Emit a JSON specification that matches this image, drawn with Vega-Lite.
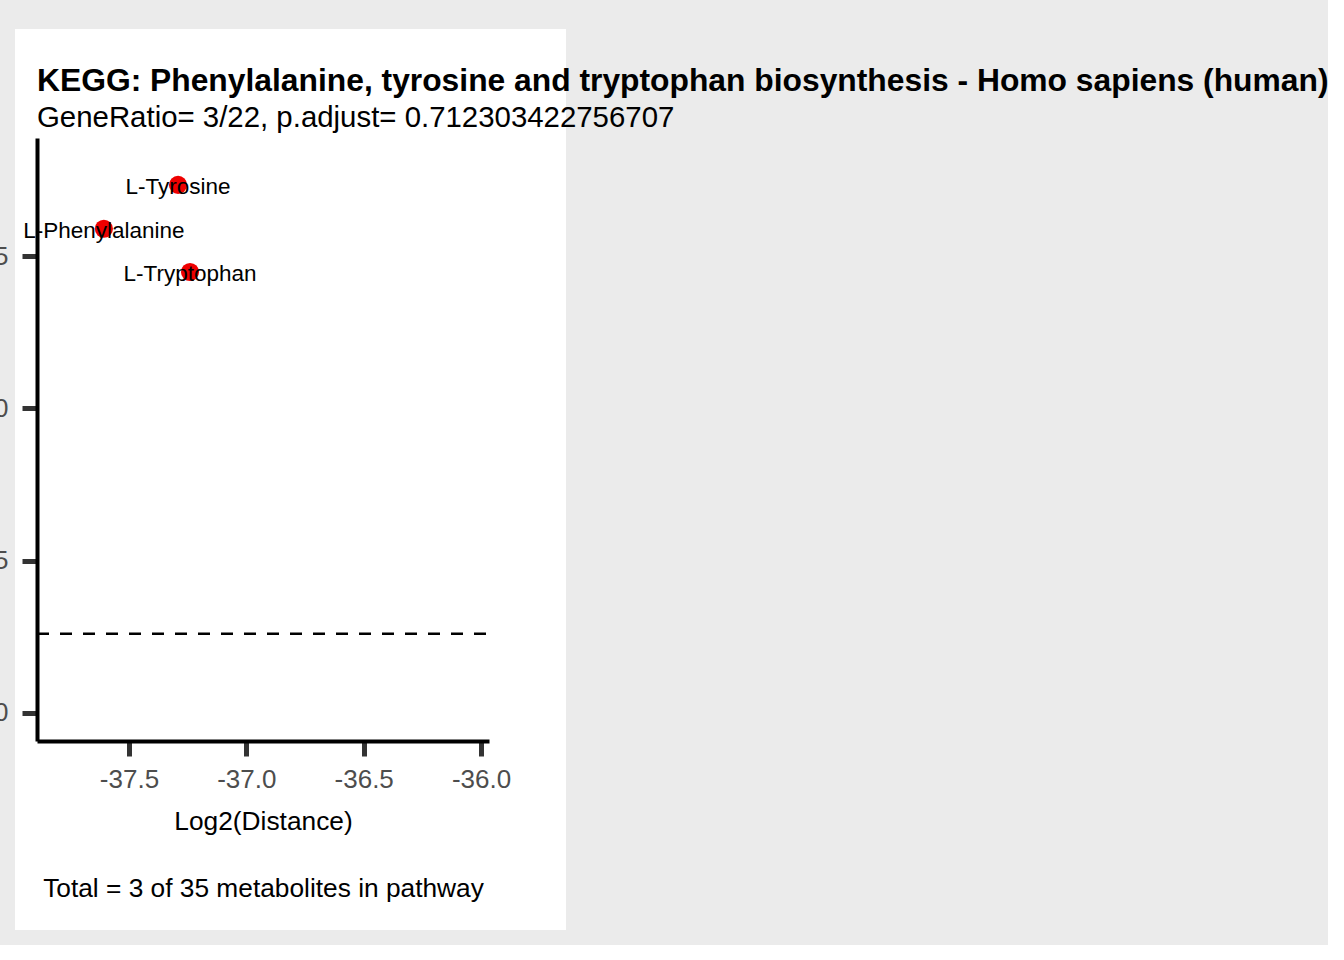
{
  "$schema": "https://vega.github.io/schema/vega-lite/v6.json",
  "autosize": {"type": "none"},
  "width": 551,
  "height": 901,
  "padding": {"left": 15, "top": 29, "right": 762, "bottom": 15},
  "background": "#EBEBEB",
  "config": {
    "view": {"fill": "white", "stroke": null},
    "font": "Liberation Sans"
  },
  "title": {
    "text": "KEGG: Phenylalanine, tyrosine and tryptophan biosynthesis - Homo sapiens (human)",
    "subtitle": "GeneRatio= 3/22, p.adjust= 0.712303422756707",
    "anchor": "start",
    "frame": "group",
    "font": "Liberation Sans",
    "fontSize": 31.8,
    "fontWeight": "bold",
    "color": "black",
    "subtitleFont": "Liberation Sans",
    "subtitleFontSize": 29.4,
    "subtitleColor": "black",
    "subtitlePadding": 6,
    "offset": 0,
    "dx": 22,
    "dy": 103
  },
  "datasets": {
    "points": [
      {"name": "L-Tyrosine", "log2dist": -37.291, "score": 8.67},
      {"name": "L-Phenylalanine", "log2dist": -37.607, "score": 7.95},
      {"name": "L-Tryptophan", "log2dist": -37.24, "score": 7.24}
    ],
    "threshold": [
      {"score": 1.301, "xmin": -37.892, "xmax": -35.966}
    ]
  },
  "layer": [
    {
      "data": {"name": "threshold"},
      "mark": {"type": "rule", "color": "black", "strokeWidth": 2.5, "strokeDash": [12, 11]},
      "encoding": {
        "x": {
          "field": "xmin", "type": "quantitative",
          "scale": {"domain": [-37.892, -35.966], "range": [22, 474], "nice": false, "zero": false},
          "axis": {
            "orient": "bottom",
            "offset": -189,
            "values": [-37.5, -37, -36.5, -36],
            "labelExpr": "(datum.value < 0 ? '-' : '') + format(abs(datum.value), '.1f')",
            "grid": false,
            "domainColor": "black",
            "domainWidth": 4,
            "tickColor": "#333333",
            "tickWidth": 5,
            "tickSize": 15,
            "labelFont": "Liberation Sans",
            "labelFontSize": 26,
            "labelColor": "#4D4D4D",
            "labelPadding": 10,
            "title": ["Log2(Distance)", "Total = 3 of 35 metabolites in pathway"],
            "titleFont": "Liberation Sans",
            "titleFontSize": 26.3,
            "titleFontWeight": "normal",
            "titleColor": "black",
            "titleLineHeight": 67,
            "titlePadding": 16
          }
        },
        "x2": {"field": "xmax"},
        "y": {
          "field": "score", "type": "quantitative",
          "scale": {"domain": [-0.46, 9.44], "range": [712, 109], "nice": false, "zero": false},
          "axis": {
            "orient": "left",
            "offset": -22,
            "values": [0, 2.5, 5, 7.5],
            "format": ".1f",
            "grid": false,
            "domainColor": "black",
            "domainWidth": 4,
            "tickColor": "#333333",
            "tickWidth": 5,
            "tickSize": 15,
            "labelFont": "Liberation Sans",
            "labelFontSize": 26,
            "labelColor": "#4D4D4D",
            "labelPadding": 14,
            "title": null
          }
        }
      }
    },
    {
      "data": {"name": "points"},
      "mark": {"type": "circle", "color": "#EE0000", "opacity": 1, "size": 330},
      "encoding": {
        "x": {"field": "log2dist", "type": "quantitative"},
        "y": {"field": "score", "type": "quantitative"}
      }
    },
    {
      "data": {"name": "points"},
      "mark": {"type": "text", "color": "black", "fontSize": 22.5, "font": "Liberation Sans", "align": "center", "baseline": "middle", "dy": 2},
      "encoding": {
        "x": {"field": "log2dist", "type": "quantitative"},
        "y": {"field": "score", "type": "quantitative"},
        "text": {"field": "name", "type": "nominal"}
      }
    }
  ]
}
